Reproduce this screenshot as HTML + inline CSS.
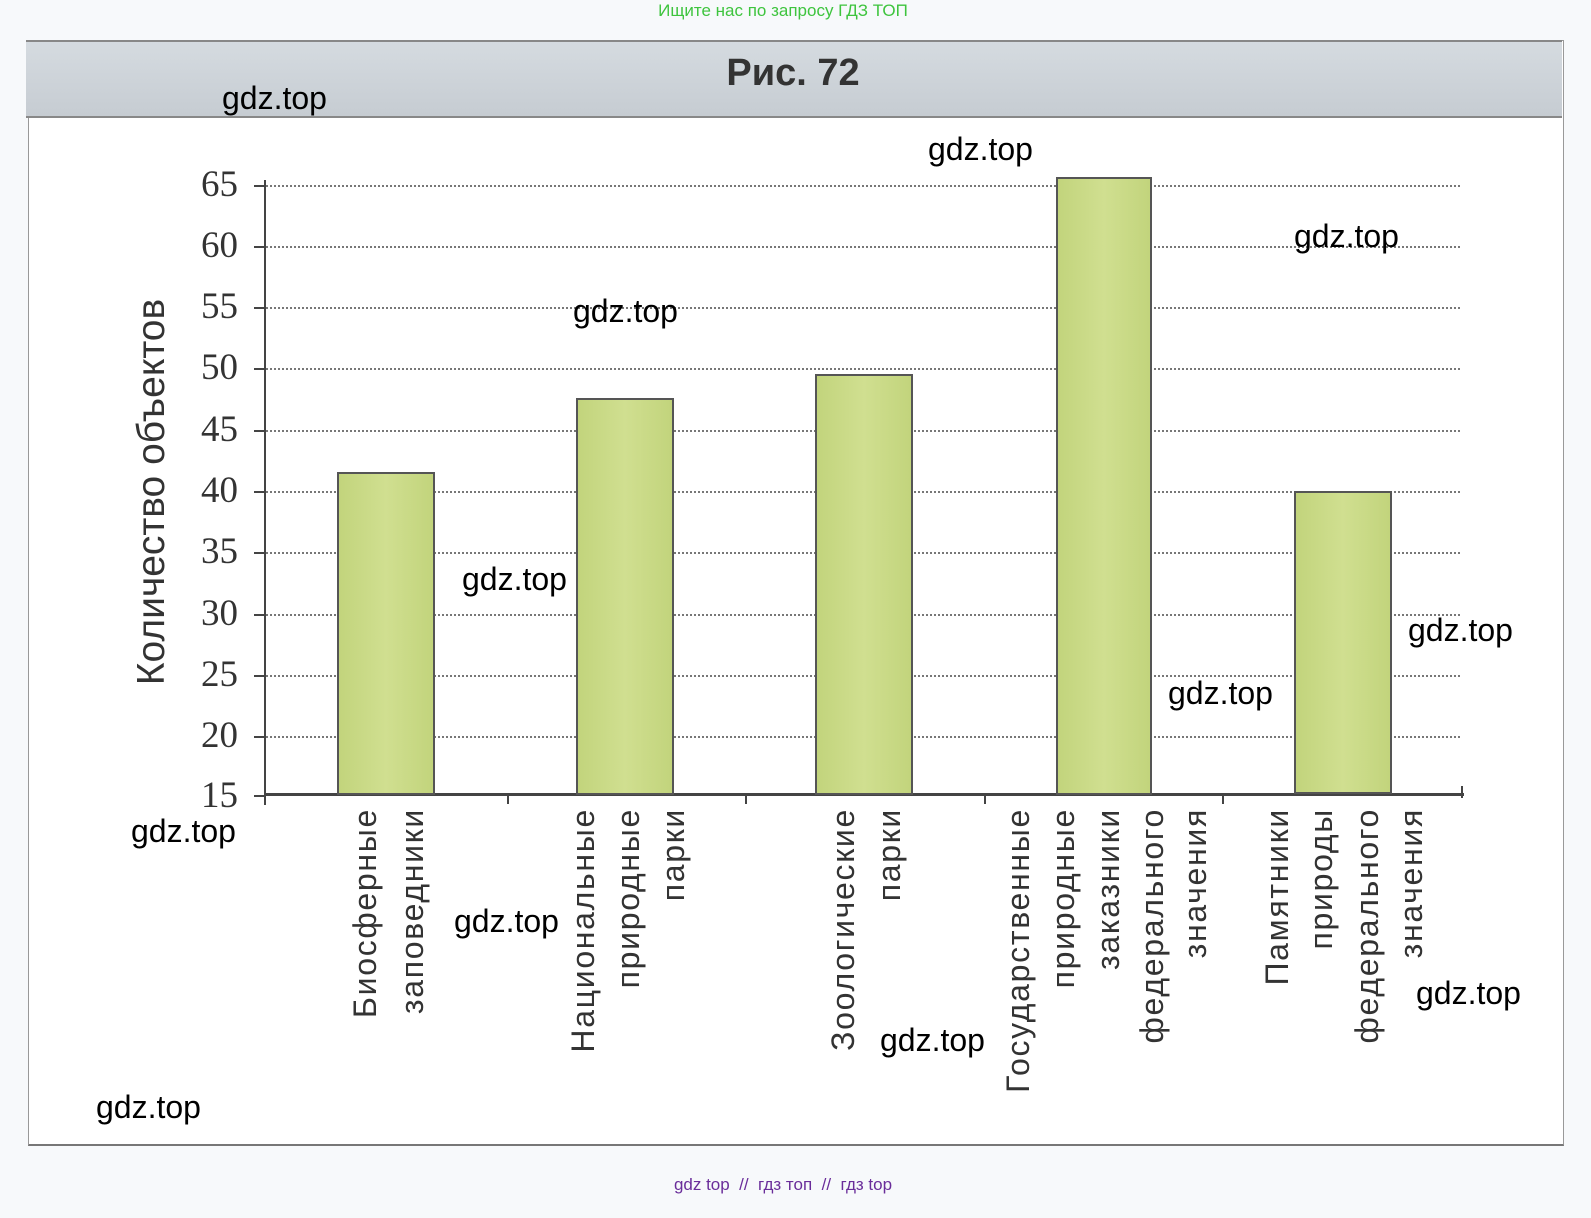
<!DOCTYPE html>
<html><head><meta charset="utf-8"><style>
body{margin:0;width:1591px;height:1218px;background:#f7f9fb;position:relative;overflow:hidden;font-family:"Liberation Sans",sans-serif}
.a{position:absolute}
.grid{position:absolute;left:262px;width:1198px;height:0;border-top:2px dotted #777}
.tick{position:absolute;left:254px;width:12px;height:2px;background:#444}
.yl{position:absolute;width:120px;left:118px;text-align:right;font-family:"Liberation Serif",serif;font-size:37px;color:#333;line-height:36px}
.bar{position:absolute;background:#c8d986;border:2px solid #555;box-sizing:border-box;background-image:linear-gradient(90deg,#c2d47c,#d0df90,#c2d47c)}
.xl{position:absolute;width:400px;height:40px;line-height:40px;text-align:right;transform-origin:0 0;transform:rotate(-90deg);font-size:32px;letter-spacing:1.7px;color:#333;white-space:nowrap}
.w{position:absolute;font-size:32px;color:#000;line-height:30px}
</style></head><body>
<div class="a" style="left:0;top:1px;width:1566px;text-align:center;color:#3ec43e;font-size:17px">Ищите нас по запросу ГДЗ ТОП</div>
<div class="a" style="left:28px;top:40px;width:1534px;height:1103px;background:#fff;border:1px solid #999;border-bottom:2px solid #777"></div>
<div class="a" style="left:26px;top:40px;width:1536px;height:74px;background:linear-gradient(#d5dbe0,#c6ccd2);border-top:2px solid #888;border-bottom:2px solid #888"></div>
<div class="a" style="left:0;top:52px;width:1586px;text-align:center;font-size:38px;font-weight:bold;color:#333">Рис. 72</div>

<div class="grid" style="top:185px"></div>
<div class="grid" style="top:246px"></div>
<div class="grid" style="top:307px"></div>
<div class="grid" style="top:368px"></div>
<div class="grid" style="top:430px"></div>
<div class="grid" style="top:491px"></div>
<div class="grid" style="top:552px"></div>
<div class="grid" style="top:614px"></div>
<div class="grid" style="top:675px"></div>
<div class="grid" style="top:736px"></div>
<div class="a" style="left:264px;top:180px;width:2px;height:625px;background:#444"></div>
<div class="a" style="left:264px;top:793px;width:1200px;height:3px;background:#444"></div>
<div class="tick" style="top:185px"></div><div class="tick" style="top:246px"></div><div class="tick" style="top:307px"></div><div class="tick" style="top:368px"></div><div class="tick" style="top:430px"></div><div class="tick" style="top:491px"></div><div class="tick" style="top:552px"></div><div class="tick" style="top:614px"></div><div class="tick" style="top:675px"></div><div class="tick" style="top:736px"></div><div class="tick" style="top:795px"></div>
<div class="a" style="left:507px;top:794px;width:2px;height:10px;background:#444"></div>
<div class="a" style="left:745px;top:794px;width:2px;height:10px;background:#444"></div>
<div class="a" style="left:984px;top:794px;width:2px;height:10px;background:#444"></div>
<div class="a" style="left:1222px;top:794px;width:2px;height:10px;background:#444"></div>
<div class="a" style="left:1461px;top:786px;width:2px;height:12px;background:#444"></div>

<div class="yl" style="top:167px">65</div><div class="yl" style="top:228px">60</div><div class="yl" style="top:289px">55</div><div class="yl" style="top:350px">50</div><div class="yl" style="top:412px">45</div><div class="yl" style="top:473px">40</div><div class="yl" style="top:534px">35</div><div class="yl" style="top:596px">30</div><div class="yl" style="top:657px">25</div><div class="yl" style="top:718px">20</div><div class="yl" style="top:778px">15</div>

<div class="a" style="left:128px;top:712px;width:440px;height:48px;line-height:48px;transform-origin:0 0;transform:rotate(-90deg);text-align:center;font-size:39px;color:#333;white-space:nowrap">Количество объектов</div>

<div class="bar" style="left:337px;top:472px;width:98px;height:323px"></div>
<div class="bar" style="left:576px;top:398px;width:98px;height:397px"></div>
<div class="bar" style="left:815px;top:374px;width:98px;height:421px"></div>
<div class="bar" style="left:1056px;top:177px;width:96px;height:618px"></div>
<div class="bar" style="left:1294px;top:491px;width:98px;height:303px"></div>

<div class="xl" style="left:345px;top:1208px">Биосферные</div>
<div class="xl" style="left:392px;top:1208px">заповедники</div>
<div class="xl" style="left:563px;top:1208px">Национальные</div>
<div class="xl" style="left:608px;top:1208px">природные</div>
<div class="xl" style="left:653px;top:1208px">парки</div>
<div class="xl" style="left:823px;top:1208px">Зоологические</div>
<div class="xl" style="left:869px;top:1208px">парки</div>
<div class="xl" style="left:998px;top:1208px">Государственные</div>
<div class="xl" style="left:1043px;top:1208px">природные</div>
<div class="xl" style="left:1088px;top:1208px">заказники</div>
<div class="xl" style="left:1132px;top:1208px">федерального</div>
<div class="xl" style="left:1175px;top:1208px">значения</div>
<div class="xl" style="left:1257px;top:1208px">Памятники</div>
<div class="xl" style="left:1301px;top:1208px">природы</div>
<div class="xl" style="left:1347px;top:1208px">федерального</div>
<div class="xl" style="left:1391px;top:1208px">значения</div>

<div class="w" style="left:222px;top:83px">gdz.top</div>
<div class="w" style="left:928px;top:134px">gdz.top</div>
<div class="w" style="left:1294px;top:221px">gdz.top</div>
<div class="w" style="left:573px;top:296px">gdz.top</div>
<div class="w" style="left:462px;top:564px">gdz.top</div>
<div class="w" style="left:1408px;top:615px">gdz.top</div>
<div class="w" style="left:1168px;top:678px">gdz.top</div>
<div class="w" style="left:131px;top:816px">gdz.top</div>
<div class="w" style="left:454px;top:906px">gdz.top</div>
<div class="w" style="left:1416px;top:978px">gdz.top</div>
<div class="w" style="left:880px;top:1025px">gdz.top</div>
<div class="w" style="left:96px;top:1092px">gdz.top</div>

<div class="a" style="left:0;top:1175px;width:1566px;text-align:center;color:#6a2d9a;font-size:17px">gdz top &nbsp;//&nbsp; гдз топ &nbsp;//&nbsp; гдз top</div>
</body></html>
